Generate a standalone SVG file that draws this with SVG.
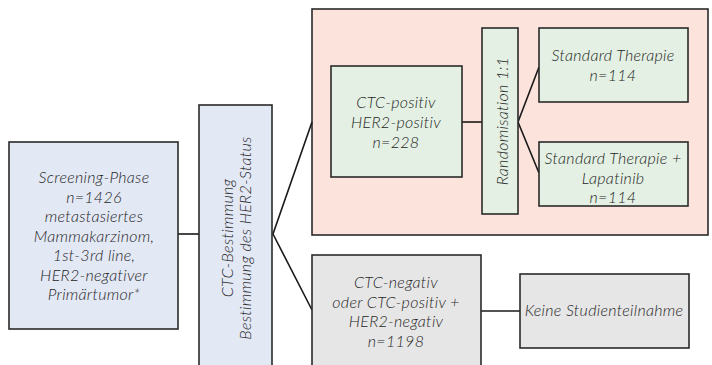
<svg xmlns="http://www.w3.org/2000/svg" width="712" height="365" viewBox="0 0 712 365">
  <style>
    .box { stroke: #2a2a2a; stroke-width: 1.6; }
    .blue { fill: #e3e8f5; }
    .red { fill: #fce3db; }
    .green { fill: #e3f0e3; }
    .grey { fill: #e6e6e6; }
    .conn { stroke: #1a1a1a; stroke-width: 1.6; fill: none; }
    text { font-family: Lato, "Open Sans", sans-serif; font-style: italic; font-weight: 300; font-size: 16px; letter-spacing: 0.3px; fill: #262626; text-anchor: middle; }
  </style>
  <rect width="712" height="365" fill="#ffffff"/>

  <g id="study-arm">
    <rect class="box red" x="312" y="9" width="396" height="226"/>
  </g>

  <g id="connectors">
    <line class="conn" x1="178" y1="234" x2="199" y2="234"/>
    <polyline class="conn" points="312,122 273,234 312,310"/>
    <line class="conn" x1="462" y1="122" x2="482" y2="122"/>
    <polyline class="conn" points="539,67 518,122 539,173"/>
    <line class="conn" x1="481" y1="311" x2="520" y2="311"/>
  </g>

  <g id="screening">
    <rect class="box blue" x="9" y="142" width="169" height="187"/>
    <text x="94" y="183">Screening-Phase</text>
    <text x="94" y="202.5">n=1426</text>
    <text x="94" y="222">metastasiertes</text>
    <text x="94" y="241.5">Mammakarzinom,</text>
    <text x="94" y="261">1st-3rd line,</text>
    <text x="94" y="280.5">HER2-negativer</text>
    <text x="94" y="300">Primärtumor*</text>
  </g>

  <g id="ctc-bestimmung">
    <rect class="box blue" x="199" y="105" width="73" height="270"/>
    <g transform="translate(242,238) rotate(-90)">
      <text x="0" y="-9">CTC-Bestimmung</text>
      <text x="0" y="9">Bestimmung des HER2-Status</text>
    </g>
  </g>

  <g id="ctc-positiv">
    <rect class="box green" x="331" y="66" width="131" height="111"/>
    <text x="396" y="108">CTC-positiv</text>
    <text x="396" y="128">HER2-positiv</text>
    <text x="396" y="148">n=228</text>
  </g>

  <g id="randomisation">
    <rect class="box green" x="482" y="28" width="36" height="186"/>
    <text transform="translate(508,121) rotate(-90)" x="0" y="0">Randomisation 1:1</text>
  </g>

  <g id="standard">
    <rect class="box green" x="539" y="28" width="149" height="74"/>
    <text x="613" y="61">Standard Therapie</text>
    <text x="613" y="80.5">n=114</text>
  </g>

  <g id="lapatinib">
    <rect class="box green" x="539" y="142" width="149" height="64"/>
    <text x="613" y="164">Standard Therapie +</text>
    <text x="613" y="183.5">Lapatinib</text>
    <text x="613" y="203">n=114</text>
  </g>

  <g id="ctc-negativ">
    <rect class="box grey" x="312" y="255" width="169" height="120"/>
    <text x="396" y="288">CTC-negativ</text>
    <text x="396" y="307.5">oder CTC-positiv +</text>
    <text x="396" y="327">HER2-negativ</text>
    <text x="396" y="346.5">n=1198</text>
  </g>

  <g id="keine">
    <rect class="box grey" x="520" y="274" width="169" height="74"/>
    <text x="604" y="316">Keine Studienteilnahme</text>
  </g>
</svg>
